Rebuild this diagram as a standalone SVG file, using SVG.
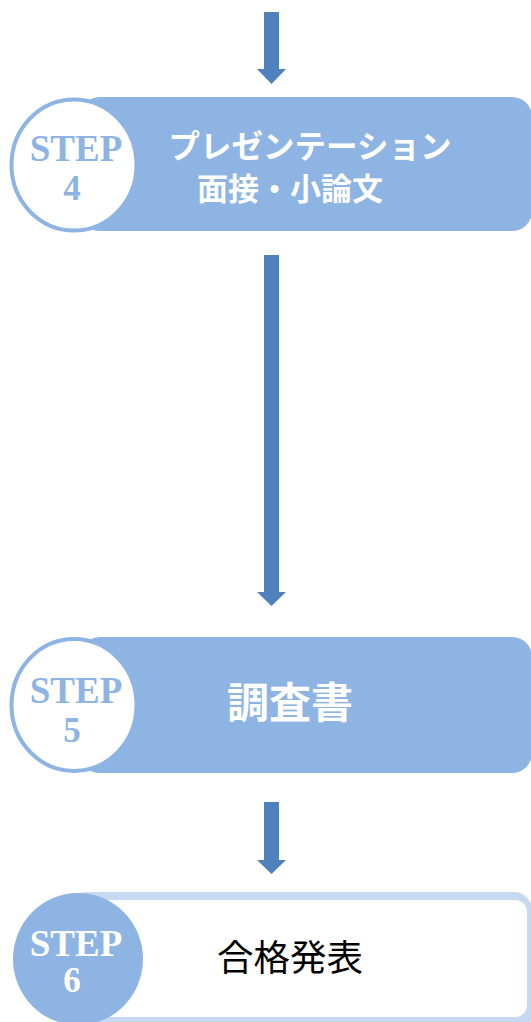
<svg xmlns="http://www.w3.org/2000/svg" width="531" height="1022" viewBox="0 0 531 1022">
<defs>
<style>
.bar{fill:#8EB4E3}
.arrow{fill:#4F81BD}
.step{font-family:"Liberation Serif","Times New Roman",serif;font-weight:bold;text-anchor:middle}
.lbl{font-family:"Noto Sans CJK JP","Noto Sans",sans-serif;text-anchor:middle;dominant-baseline:central}
</style>
</defs>
<rect width="531" height="1022" fill="#FFFFFF"/>
<g id="connectors">
<polygon class="arrow" points="264,12 279,12 279,69 286,69 271.5,84 257,69 264,69"/>
<polygon class="arrow" points="264,255 279,255 279,592 286,592 271.5,606 257,592 264,592"/>
<polygon class="arrow" points="264,802 279,802 279,860 286,860 271.5,874 257,860 264,860"/>
</g>
<g id="step4">
<rect class="bar" x="80" y="97" width="452" height="134" rx="20"/>
<ellipse cx="74" cy="165" rx="62.5" ry="65.5" fill="#FFFFFF" stroke="#8EB4E3" stroke-width="4"/>
<text class="step" x="76" y="161" font-size="37" fill="#8EB4E3">STEP</text>
<text class="step" x="72" y="200" font-size="35" fill="#8EB4E3">4</text>
<text class="lbl" x="310" y="144" font-size="31.5" font-weight="bold" fill="#FFFFFF">プレゼンテーション</text>
<text class="lbl" x="290" y="186" font-size="31" font-weight="bold" fill="#FFFFFF">面接・小論文</text>
</g>
<g id="step5">
<rect class="bar" x="80" y="637" width="452" height="136" rx="20"/>
<ellipse cx="74" cy="705" rx="62.5" ry="66" fill="#FFFFFF" stroke="#8EB4E3" stroke-width="4"/>
<text class="step" x="76" y="703" font-size="37" fill="#8EB4E3">STEP</text>
<text class="step" x="72" y="742" font-size="35" fill="#8EB4E3">5</text>
<text class="lbl" x="290" y="699" font-size="42" font-weight="bold" fill="#FFFFFF">調査書</text>
</g>
<g id="step6">
<rect x="70" y="892" width="462" height="140" rx="18" fill="#C6D9F1"/>
<rect x="60" y="900" width="467" height="117" rx="12" fill="#FFFFFF"/>
<ellipse cx="78" cy="959" rx="65" ry="66" fill="#8EB4E3"/>
<text class="step" x="76" y="956" font-size="37" fill="#FFFFFF">STEP</text>
<text class="step" x="72" y="992" font-size="35" fill="#FFFFFF">6</text>
<text class="lbl" x="290" y="955" font-size="36.5" fill="#000000">合格発表</text>
</g>
</svg>
